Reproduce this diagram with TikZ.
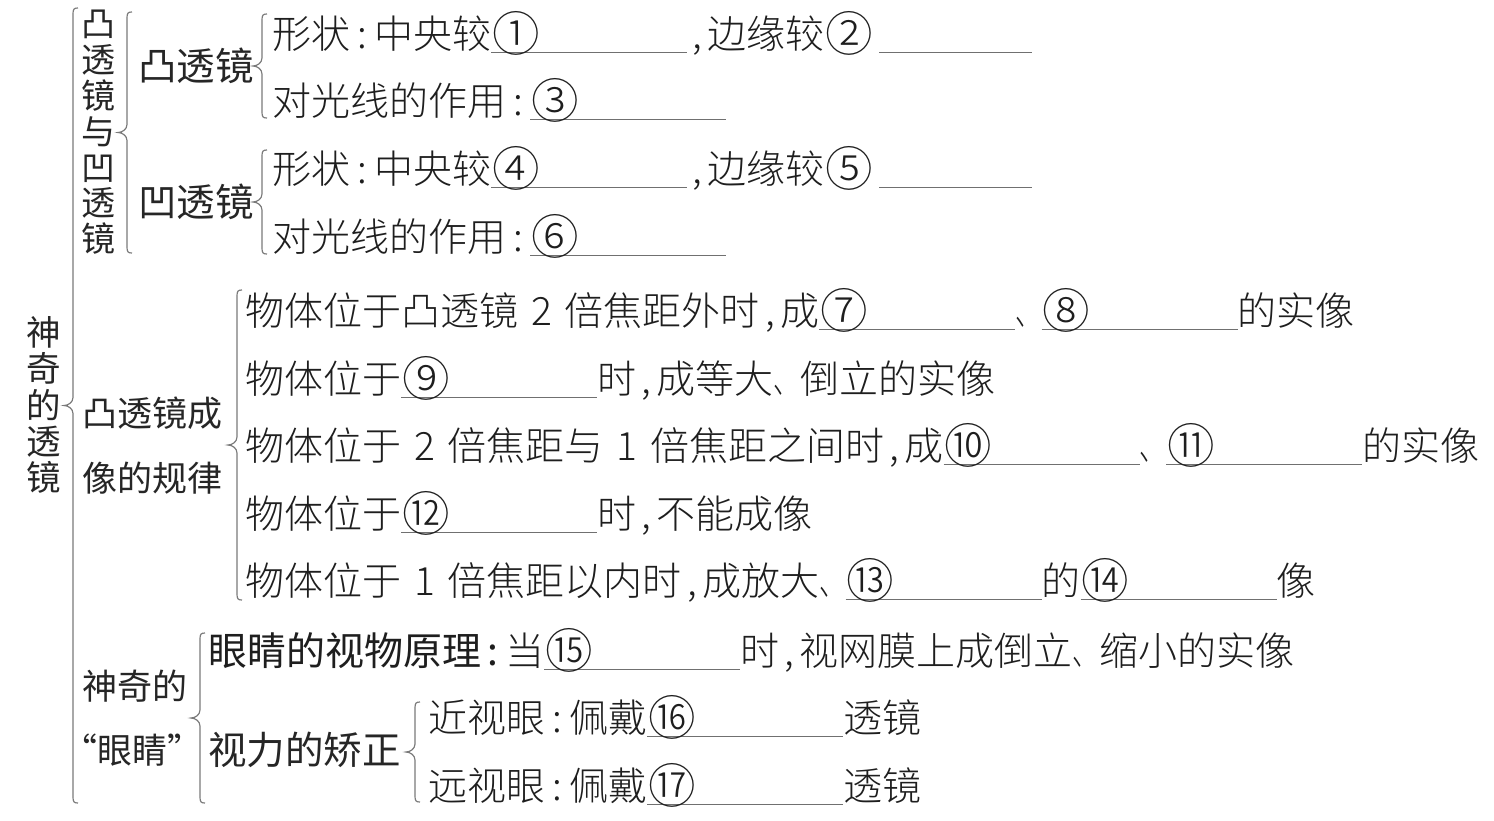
\documentclass[tikz,border=0pt]{standalone}
\usepackage{fontspec}
\usetikzlibrary{calc}
\setmainfont{Noto Sans CJK SC}
\newfontfamily\leaffont{Noto Sans CJK SC Light}
\newfontfamily\headfont{Noto Sans CJK SC}
\definecolor{ink}{HTML}{1E1E1E}
\definecolor{headink}{HTML}{262626}
\definecolor{rulegray}{HTML}{707070}
\definecolor{bracegray}{HTML}{7A7A7A}
\newcommand\cc{\makebox[0.62em]{:}}
\newcommand\cm{\makebox[0.52em]{,}}
\newcommand\dn{\makebox[0.68em][l]{\scalebox{0.66}[1]{、}}}
\newcommand\numsp[1]{\hspace{0.33em}#1\hspace{0.33em}}
\newcommand\circnum[1]{\hspace{1pt}\raisebox{-0.085em}{\scalebox{1.22}{#1}}}
\newcommand\fb[2][196pt]{\makebox[0pt][l]{\smash{{\color{rulegray}\rule[-5pt]{#1}{1.3pt}}}}\makebox[#1][l]{\circnum{#2}}}
\newcommand\fblate[1]{\circnum{#1}\hspace{6pt}\smash{{\color{rulegray}\rule[-5pt]{153pt}{1.3pt}}}}
\newcommand\oq{\makebox[0.45em][r]{“}}
\newcommand\cq{\makebox[0.45em][l]{”}}
\newcommand\curlybrace[2]{%
 \draw[bracestyle] let \p1=(#1), \p2=(#2), \p3=($(#1)!0.5!(#2)$) in
 (\x1+5pt,\y1) .. controls (\x1+1pt,\y1) and (\x1,\y1-1pt) .. (\x1,\y1-6pt)
 -- (\x1,\y3+8pt) .. controls (\x1,\y3+3pt) and (\x1-5pt,\y3) .. (\x1-9pt,\y3)
 .. controls (\x1-5pt,\y3) and (\x1,\y3-3pt) .. (\x1,\y3-8pt)
 -- (\x1,\y2+6pt) .. controls (\x1,\y2+1pt) and (\x1+1pt,\y2) .. (\x1+5pt,\y2);}
\tikzset{
 leaf/.style={anchor=base west, inner sep=0pt, text=ink, font=\leaffont\fontsize{39}{44}\selectfont},
 head/.style={anchor=base west, inner sep=0pt, text=headink, font=\headfont\fontsize{38.5}{44}\selectfont},
 headtwo/.style={anchor=west, inner sep=0pt, text=headink, align=left, font=\headfont\fontsize{35}{64.5}\selectfont},
 vtitle/.style={anchor=center, inner sep=0pt, text=headink, align=center},
 bracestyle/.style={draw=bracegray, line width=1.2pt}
}
\begin{document}
\begin{tikzpicture}[x=1pt,y=-1pt]
\useasboundingbox (0,0) rectangle (1494,820);
% titles
\node[vtitle, font=\headfont\fontsize{34.5}{36.4}\selectfont] (root) at (44,405) {神\\奇\\的\\透\\镜};
\node[vtitle, font=\headfont\fontsize{34}{35.8}\selectfont] (lens) at (98,132.5) {凸\\透\\镜\\与\\凹\\透\\镜};
\node[head] (convex) at (138,80.6) {凸透镜};
\node[head] (concave) at (138,216.6) {凹透镜};
\node[headtwo] (rule) at (82,445.5) {凸透镜成\\像的规律};
\node[headtwo] (eye) at (82,718) {神奇的\\\oq 眼睛\cq};
\node[head] (correct) at (208,764.6) {视力的矫正};
% leaves
\node[leaf] (l1) at (272,48) {形状\cc 中央较\fb{①}\cm 边缘较\fblate{②}};
\node[leaf] (l2) at (272,115) {对光线的作用\cc\fb{③}};
\node[leaf] (l4) at (272,183) {形状\cc 中央较\fb{④}\cm 边缘较\fblate{⑤}};
\node[leaf] (l5) at (272,251) {对光线的作用\cc\fb{⑥}};
\node[leaf] (l7) at (245,325) {物体位于凸透镜\numsp{2}倍焦距外时\cm 成\fb{⑦}\dn\fb{⑧}的实像};
\node[leaf] (l8) at (245,393) {物体位于\fb{⑨}时\cm 成等大\dn 倒立的实像};
\node[leaf] (l9) at (245,460) {物体位于\numsp{2}倍焦距与\numsp{1}倍焦距之间时\cm 成\fb{⑩}\dn\fb{⑪}的实像};
\node[leaf] (l10) at (245,528) {物体位于\fb{⑫}时\cm 不能成像};
\node[leaf] (l11) at (245,595) {物体位于\numsp{1}倍焦距以内时\cm 成放大\dn\fb{⑬}的\fb{⑭}像};
\node[leaf] (l12) at (208,665) {{\headfont 眼睛的视物原理\cc}当\fb{⑮}时\cm 视网膜上成倒立\dn 缩小的实像};
\node[leaf] (l13) at (428,732) {近视眼\cc 佩戴\fb{⑯}透镜};
\node[leaf] (l14) at (428,800) {远视眼\cc 佩戴\fb{⑰}透镜};
% brace end points
\coordinate (b0t) at (73,8);   \coordinate (b0b) at (73,803);
\coordinate (b1t) at (127,12); \coordinate (b1b) at (127,253);
\coordinate (b2t) at (262,14); \coordinate (b2b) at (262,118);
\coordinate (b3t) at (262,150);\coordinate (b3b) at (262,254);
\coordinate (b4t) at (237,290);\coordinate (b4b) at (237,600);
\coordinate (b5t) at (200,633);\coordinate (b5b) at (200,803);
\coordinate (b6t) at (415,702);\coordinate (b6b) at (415,802);
\curlybrace{b0t}{b0b}
\curlybrace{b1t}{b1b}
\curlybrace{b2t}{b2b}
\curlybrace{b3t}{b3b}
\curlybrace{b4t}{b4b}
\curlybrace{b5t}{b5b}
\curlybrace{b6t}{b6b}
\end{tikzpicture}
\end{document}
